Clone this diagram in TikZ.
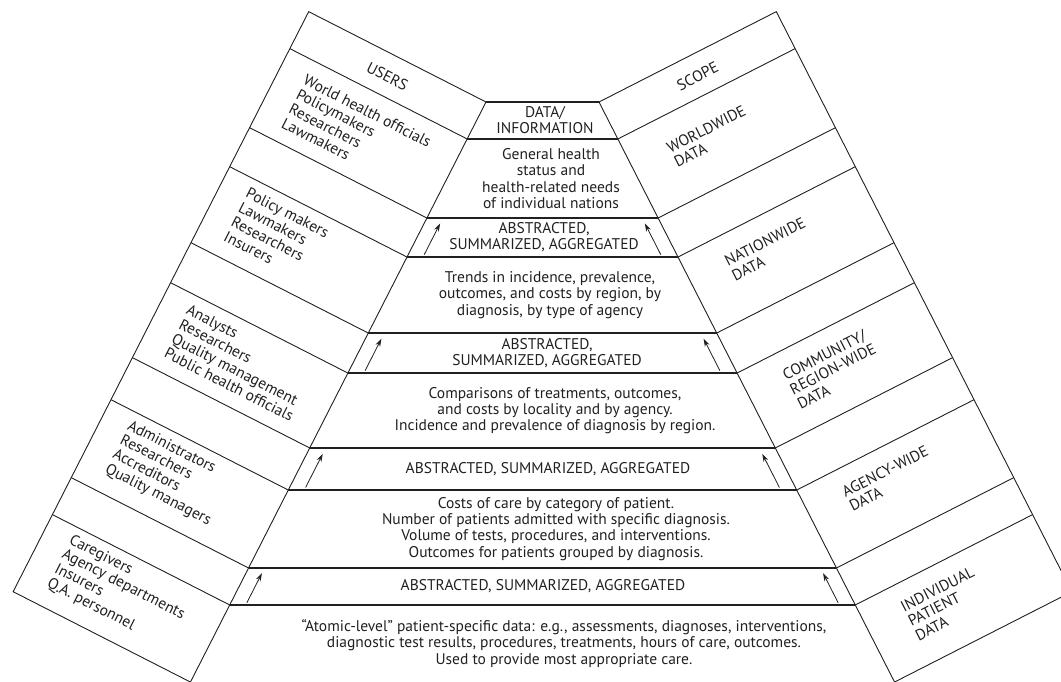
\documentclass[tikz,border=0pt]{standalone}
\usepackage{fontspec}
\setmainfont{PT Sans}
\usetikzlibrary{arrows.meta,positioning,calc}
\definecolor{ink}{RGB}{35,31,32}

\begin{document}
\begin{tikzpicture}[x=1pt,y=1pt,
  col/.style={draw=ink,line width=0.9pt},
  tier/.style={draw=ink,line width=1.7pt},
  lvl/.style={align=center,inner sep=0pt,text=ink,
              font=\fontsize{15.5}{16.2}\selectfont},
  usr/.style={lvl,align=left,anchor=west,rotate=-27},
  scp/.style={lvl,align=left,anchor=west,rotate=27},
  uparr/.style={-{Stealth[length=8pt,width=5pt]},line width=0.8pt,draw=ink}
]
\path[use as bounding box,clip] (0,0) rectangle (1061,-682);

% USERS column (left wing)
\begin{scope}[shift={(486,-102)},rotate=-27]
  \draw[col] (-199,0) rectangle (0,-651);
  \coordinate (L0) at (0,0);
  \draw[col] (0,-41.5) coordinate (L1) -- (-199,-41.5);
  \draw[col] (0,-130.2) coordinate (L2) -- (-199,-130.2);
  \draw[col] (0,-174) coordinate (L3) -- (-199,-174);
  \draw[col] (0,-259.3) coordinate (L4) -- (-199,-259.3);
  \draw[col] (0,-304.2) coordinate (L5) -- (-199,-304.2);
  \draw[col] (0,-388.3) coordinate (L6) -- (-199,-388.3);
  \draw[col] (0,-435.5) coordinate (L7) -- (-199,-435.5);
  \draw[col] (0,-523) coordinate (L8) -- (-199,-523);
  \draw[col] (0,-564.5) coordinate (L9) -- (-199,-564.5);
  \node[lvl,rotate=-27] (users) at (-99.5,-22) {USERS};
  \node[usr] (uworld) at (-172,-86) {World health officials\\Policymakers\\Researchers\\Lawmakers};
  \node[usr] (unation) at (-172,-213) {Policy makers\\Lawmakers\\Researchers\\Insurers};
  \node[usr] (uregion) at (-172,-344) {Analysts\\Researchers\\Quality management\\Public health officials};
  \node[usr] (uagency) at (-172,-475) {Administrators\\Researchers\\Accreditors\\Quality managers};
  \node[usr] (upatient) at (-172,-603) {Caregivers\\Agency departments\\Insurers\\Q.A. personnel};
\end{scope}

% SCOPE column (right wing)
\begin{scope}[shift={(599,-102)},rotate=27]
  \draw[col] (0,0) rectangle (199,-651);
  \coordinate (R0) at (0,0);
  \draw[col] (0,-41.5) coordinate (R1) -- (199,-41.5);
  \draw[col] (0,-130.2) coordinate (R2) -- (199,-130.2);
  \draw[col] (0,-174) coordinate (R3) -- (199,-174);
  \draw[col] (0,-259.3) coordinate (R4) -- (199,-259.3);
  \draw[col] (0,-304.2) coordinate (R5) -- (199,-304.2);
  \draw[col] (0,-388.3) coordinate (R6) -- (199,-388.3);
  \draw[col] (0,-435.5) coordinate (R7) -- (199,-435.5);
  \draw[col] (0,-523) coordinate (R8) -- (199,-523);
  \draw[col] (0,-564.5) coordinate (R9) -- (199,-564.5);
  \node[lvl,rotate=27] (scope) at (99.5,-22) {SCOPE};
  \node[scp] (sworld) at (40,-81) {WORLDWIDE\\DATA};
  \node[scp] (snation) at (40,-208) {NATIONWIDE\\DATA};
  \node[scp] (sregion) at (40,-344) {COMMUNITY/\\REGION-WIDE\\DATA};
  \node[scp] (sagency) at (40,-467) {AGENCY-WIDE\\DATA};
  \node[scp] (spatient) at (40,-604) {INDIVIDUAL\\PATIENT\\DATA};
\end{scope}

% data tiers
\draw[tier] (L0) -- (R0);
\draw[tier] (L1) -- (R1);
\draw[tier] (L2) -- (R2);
\draw[tier] (L3) -- (R3);
\draw[tier] (L4) -- (R4);
\draw[tier] (L5) -- (R5);
\draw[tier] (L6) -- (R6);
\draw[tier] (L7) -- (R7);
\draw[tier] (L8) -- (R8);
\draw[tier] (L9) -- (R9);

\node[lvl] (info) at (545,-120) {DATA/\\INFORMATION};
\node[lvl] (dworld) at (551,-178.5) {General health\\status and\\health-related needs\\of individual nations};
\node[lvl] (agg1) at (544,-237.5) {ABSTRACTED,\\SUMMARIZED, AGGREGATED};
\node[lvl] (dnation) at (550,-295) {Trends in incidence, prevalence,\\outcomes, and costs by region, by\\diagnosis, by type of agency};
\node[lvl] (agg2) at (547,-353) {ABSTRACTED,\\SUMMARIZED, AGGREGATED};
\node[lvl] (dregion) at (555,-410.5) {Comparisons of treatments, outcomes,\\and costs by locality and by agency.\\Incidence and prevalence of diagnosis by region.};
\node[lvl] (agg3) at (548,-469) {ABSTRACTED, SUMMARIZED, AGGREGATED};
\node[lvl] (dagency) at (556,-529) {Costs of care by category of patient.\\Number of patients admitted with specific diagnosis.\\Volume of tests, procedures, and interventions.\\Outcomes for patients grouped by diagnosis.};
\node[lvl] (agg4) at (543,-586.5) {ABSTRACTED, SUMMARIZED, AGGREGATED};
\node[lvl] (dpatient) at (564,-643.5) {“Atomic-level” patient-specific data: e.g., assessments, diagnoses, interventions,\\diagnostic test results, procedures, treatments, hours of care, outcomes.\\Used to provide most appropriate care.};

% upward arrows
\draw[uparr] ($(L3)!0.06!(L2)+(16,0)$) -- ($(L3)!0.86!(L2)+(16,0)$);
\draw[uparr] ($(R3)!0.06!(R2)+(-16,0)$) -- ($(R3)!0.86!(R2)+(-16,0)$);
\draw[uparr] ($(L5)!0.06!(L4)+(16,0)$) -- ($(L5)!0.86!(L4)+(16,0)$);
\draw[uparr] ($(R5)!0.06!(R4)+(-16,0)$) -- ($(R5)!0.86!(R4)+(-16,0)$);
\draw[uparr] ($(L7)!0.06!(L6)+(16,0)$) -- ($(L7)!0.86!(L6)+(16,0)$);
\draw[uparr] ($(R7)!0.06!(R6)+(-16,0)$) -- ($(R7)!0.86!(R6)+(-16,0)$);
\draw[uparr] ($(L9)!0.06!(L8)+(16,0)$) -- ($(L9)!0.86!(L8)+(16,0)$);
\draw[uparr] ($(R9)!0.06!(R8)+(-16,0)$) -- ($(R9)!0.86!(R8)+(-16,0)$);

\end{tikzpicture}
\end{document}
